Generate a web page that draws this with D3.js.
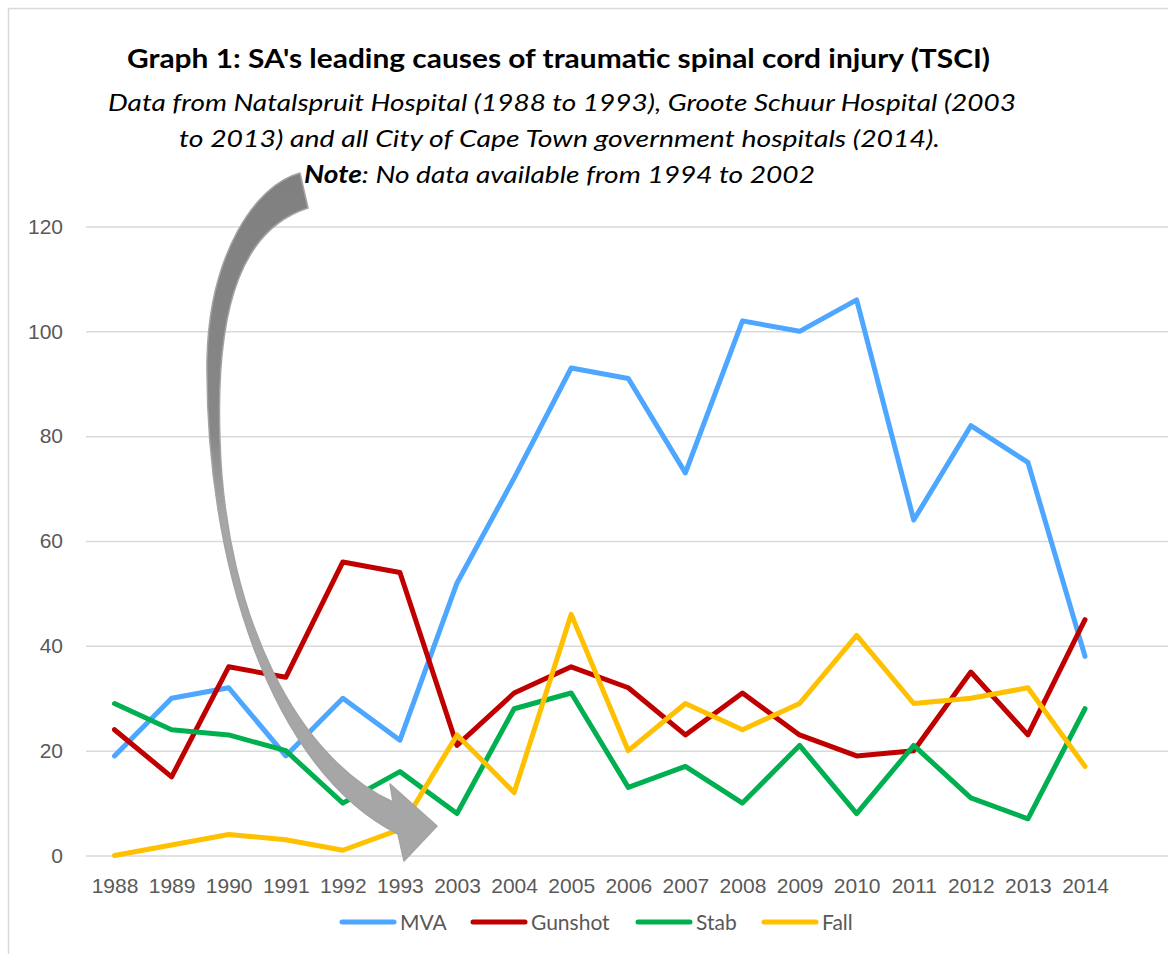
<!DOCTYPE html>
<html>
<head>
<meta charset="utf-8">
<script src="https://cdn.jsdelivr.net/npm/d3@7"></script>
<style>
  body { margin: 0; background: #fff; }
  svg { display: block; font-family: Lato, "Open Sans", sans-serif; }
</style>
</head>
<body>
<svg id="chart" width="1168" height="954"></svg>
<script>
// data
var years = ["1988","1989","1990","1991","1992","1993","2003","2004","2005","2006","2007","2008","2009","2010","2011","2012","2013","2014"];
var mva     = [19, 30, 32, 19, 30, 22, 52, 72, 93, 91, 73, 102, 100, 106, 64, 82, 75, 38];
var gunshot = [24, 15, 36, 34, 56, 54, 21, 31, 36, 32, 23, 31, 23, 19, 20, 35, 23, 45];
var stab    = [29, 24, 23, 20, 10, 16, 8, 28, 31, 13, 17, 10, 21, 8, 21, 11, 7, 28];
var fall    = [0, 2, 4, 3, 1, 5, 23, 12, 46, 20, 29, 24, 29, 42, 29, 30, 32, 17];
var seriesNames = ["MVA", "Gunshot", "Stab", "Fall"];
var seriesColors = ["#4da6ff", "#c00000", "#00b050", "#ffc000"];
var yTicks = [0, 20, 40, 60, 80, 100, 120];

var svg = d3.select("#chart");

// outer frame
svg.append("rect")
  .attr("x", 8.5).attr("y", 8.5)
  .attr("width", 1200).attr("height", 1000)
  .attr("fill", "none").attr("stroke", "#d9d9d9").attr("stroke-width", 1.5);

var left = 86, right = 1175;
var x = d3.scalePoint().domain(years).range([114.5, 1085]);
var y = d3.scaleLinear().domain([0, 120]).range([855.5, 226.5]);

// y axis + gridlines
var yAxis = svg.append("g")
  .attr("transform", "translate(" + left + ",0)")
  .call(d3.axisLeft(y).tickValues(yTicks).tickSize(-(right - left)).tickPadding(23));
yAxis.select(".domain").remove();
yAxis.selectAll(".tick line").attr("stroke", "#d9d9d9").attr("stroke-width", 1.5);
yAxis.selectAll(".tick text").attr("fill", "#595959").style("font-size", "21px");

// x axis
var xAxis = svg.append("g")
  .attr("transform", "translate(0," + y(0) + ")")
  .call(d3.axisBottom(x).tickSize(0).tickPadding(23));
xAxis.select(".domain").remove();
xAxis.selectAll(".tick text").attr("fill", "#595959").style("font-size", "21px");

// lines
var allSeries = [mva, gunshot, stab, fall];
var line = d3.line()
  .x(function(d, i) { return x(years[i]); })
  .y(function(d) { return y(d); });

svg.selectAll("path.series")
  .data(allSeries)
  .enter()
  .append("path")
  .attr("class", "series")
  .attr("d", line)
  .attr("fill", "none")
  .attr("stroke", function(d, i) { return seriesColors[i]; })
  .attr("stroke-width", 5)
  .attr("stroke-linejoin", "round")
  .attr("stroke-linecap", "round");

// curved arrow drawn over the chart (decoration)
var defs = svg.append("defs");
var grad = defs.append("linearGradient")
  .attr("id", "arrowGrad")
  .attr("gradientUnits", "userSpaceOnUse")
  .attr("x1", 0).attr("y1", 171).attr("x2", 0).attr("y2", 862);
grad.append("stop").attr("offset", "0").attr("stop-color", "#808080");
grad.append("stop").attr("offset", "0.38").attr("stop-color", "#878787");
grad.append("stop").attr("offset", "0.5").attr("stop-color", "#a6a6a6");
grad.append("stop").attr("offset", "1").attr("stop-color", "#a6a6a6");

var arrowD = "M300,173" +
  "C255,185 209,255 207,360" +
  "C205,560 270,770 398,834" +
  "L404,861L437,826L390,784L393,802" +
  "C300,760 225,620 220,440" +
  "C215,300 245,228 308,208Z";

svg.append("path")
  .attr("d", arrowD)
  .attr("fill", "url(#arrowGrad)")
  .attr("stroke", "#a3a3a3")
  .attr("stroke-width", 1.5)
  .attr("stroke-linejoin", "round");

// titles
svg.append("text")
  .attr("x", 558.5).attr("y", 68)
  .attr("text-anchor", "middle")
  .attr("textLength", 863).attr("lengthAdjust", "spacingAndGlyphs")
  .style("font-size", "26px").style("font-weight", "bold").attr("fill", "#000")
  .text("Graph 1: SA's leading causes of traumatic spinal cord injury (TSCI)");

var sub = [
  { t: "Data from Natalspruit Hospital (1988 to 1993), Groote Schuur Hospital (2003", cx: 562, y: 111, w: 908 },
  { t: "to 2013) and all City of Cape Town government hospitals (2014).", cx: 559.5, y: 147, w: 761 }
];
sub.forEach(function(s) {
  svg.append("text")
    .attr("x", s.cx).attr("y", s.y)
    .attr("text-anchor", "middle")
    .attr("textLength", s.w).attr("lengthAdjust", "spacingAndGlyphs")
    .style("font-size", "24px").style("font-style", "italic").attr("fill", "#000")
    .text(s.t);
});

var note = svg.append("text")
  .attr("x", 559.5).attr("y", 183)
  .attr("text-anchor", "middle")
  .attr("textLength", 511).attr("lengthAdjust", "spacingAndGlyphs")
  .style("font-size", "24px").style("font-style", "italic").attr("fill", "#000");
note.append("tspan").style("font-weight", "bold").text("Note");
note.append("tspan").text(": No data available from 1994 to 2002");

// legend
var legendX = [342, 473, 638, 764];
var leg = svg.selectAll("g.leg")
  .data(seriesNames)
  .enter()
  .append("g")
  .attr("class", "leg")
  .attr("transform", function(d, i) { return "translate(" + legendX[i] + ",922)"; });
leg.append("line")
  .attr("x1", 0).attr("x2", 52).attr("y1", 0).attr("y2", 0)
  .attr("stroke", function(d, i) { return seriesColors[i]; })
  .attr("stroke-width", 5).attr("stroke-linecap", "round");
leg.append("text")
  .attr("x", 58).attr("y", 7.5)
  .attr("fill", "#595959")
  .style("font-size", "21px")
  .text(function(d) { return d; });
</script>
</body>
</html>
